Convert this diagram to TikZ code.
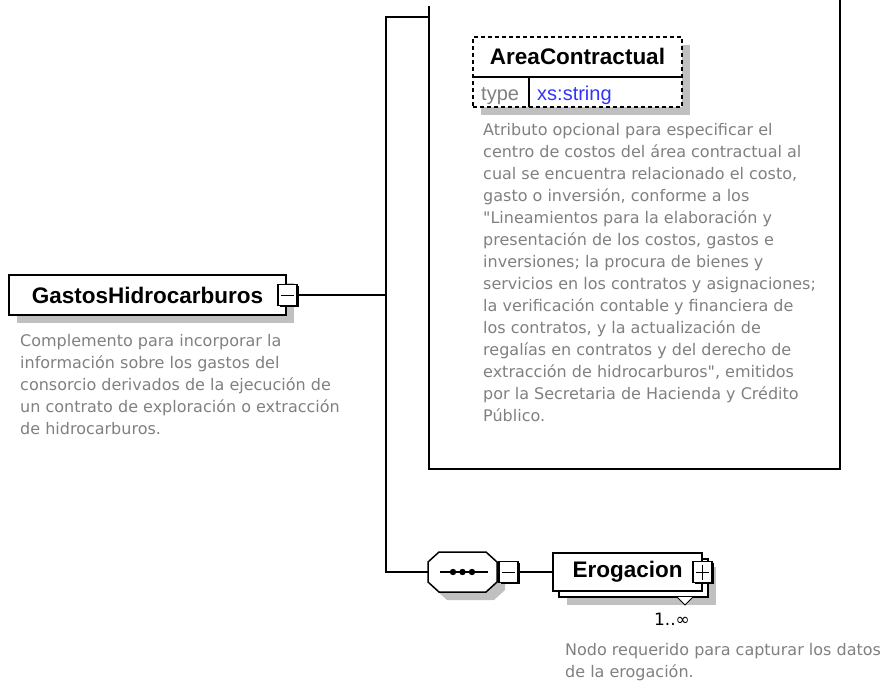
\documentclass[tikz,border=0pt]{standalone}
\usepackage{fontspec}
\newfontfamily\arialfam{Liberation Sans}
\newfontfamily\tahomafam{DejaVu Sans}
\usetikzlibrary{shadows}
\definecolor{descgray}{RGB}{128,128,128}
\definecolor{shadowgray}{RGB}{192,192,192}
\definecolor{typeblue}{RGB}{51,51,255}
\tikzset{
  conn/.style={line width=1.5pt},
  boxshadow/.style={drop shadow={shadow xshift=8pt, shadow yshift=-8pt, fill=shadowgray, opacity=1}},
  elembox/.style={draw, line width=1.6pt, fill=white, inner sep=0pt,
    font=\arialfam\bfseries\fontsize{22.5}{26}\selectfont},
  btnbox/.style={draw, line width=1.2pt, fill=white, inner sep=0pt,
    minimum width=19pt, minimum height=21pt,
    drop shadow={shadow xshift=1.5pt, shadow yshift=-1.5pt, fill=black, opacity=1}},
  minusbtn/.style={btnbox, path picture={
    \draw[line width=1pt] ([xshift=3pt]path picture bounding box.west) -- ([xshift=-3pt]path picture bounding box.east);}},
  plusbtn/.style={btnbox, path picture={
    \draw[line width=1pt] ([xshift=3pt]path picture bounding box.west) -- ([xshift=-3pt]path picture bounding box.east);
    \draw[line width=1pt] ([yshift=-3pt]path picture bounding box.north) -- ([yshift=3pt]path picture bounding box.south);}},
  desc/.style={text=descgray, anchor=base west, align=left, inner sep=0pt,
    font=\tahomafam\fontsize{16}{22}\selectfont},
}
\newcommand{\octpath}{(11,0) -- (58,0) -- (69,10) -- (69,30) -- (58,40) -- (11,40) -- (0,30) -- (0,10) -- cycle}
\begin{document}
\begin{tikzpicture}[x=1pt,y=-1pt]
\useasboundingbox (0,0) rectangle (882,682);

% root element
\node[elembox, boxshadow, minimum width=277pt, minimum height=40pt] (gastos) at (147.5,295) {GastosHidrocarburos};
\node[minusbtn] (gastosbtn) at (287.5,295) {};
% base anchor sits on the last line
\node[desc] (gastosdesc) at (20,434) {Complemento para incorporar la\\información sobre los gastos del\\consorcio derivados de la ejecución de\\un contrato de exploración o extracción\\de hidrocarburos.};

% attributes box
\draw[line width=1.6pt] (429,6) -- (429,469) -- (840,469) -- (840,0);
\node[draw, dashed, dash pattern=on 4pt off 3pt, line width=1.5pt, fill=white, boxshadow,
  minimum width=209pt, minimum height=70pt, inner sep=0pt] (area) at (577.5,72) {};
\draw[line width=1.2pt] (area.west |- 0,77) -- (area.east |- 0,77);
\draw[line width=1.2pt] (529,77) -- (529,107);
\node[font=\arialfam\bfseries\fontsize{22.5}{26}\selectfont, inner sep=0pt] (areatitle) at (577.5,56) {AreaContractual};
\node[font=\arialfam\fontsize{20}{24}\selectfont, text=descgray, inner sep=0pt, anchor=base west] (areatype) at (481,100) {type};
\node[font=\arialfam\fontsize{20}{24}\selectfont, text=typeblue, inner sep=0pt, anchor=base west] (areaxs) at (537,100) {xs:string};
\node[desc] (areadesc) at (483,421) {Atributo opcional para especificar el\\centro de costos del área contractual al\\cual se encuentra relacionado el costo,\\gasto o inversión, conforme a los\\"Lineamientos para la elaboración y\\presentación de los costos, gastos e\\inversiones; la procura de bienes y\\servicios en los contratos y asignaciones;\\la verificación contable y financiera de\\los contratos, y la actualización de\\regalías en contratos y del derecho de\\extracción de hidrocarburos", emitidos\\por la Secretaria de Hacienda y Crédito\\Público.};

% sequence
\node[minimum width=69pt, minimum height=40pt, inner sep=0pt] (seq) at (462.5,572) {};
\fill[shadowgray, shift={(436,560)}] \octpath;
\draw[line width=1.5pt, fill=white, shift={(428,552)}] \octpath;
\draw[line width=1.2pt] ([xshift=12pt]seq.west) -- ([xshift=-9pt]seq.east);
\foreach \dx in {-9.5,0,9.5}
  \fill ([xshift=\dx pt]seq.center) circle (3.2pt);
\node[minusbtn] (seqbtn) at (508.5,572) {};

% child element
\node[elembox, boxshadow, minimum width=149pt, minimum height=38pt] (erogback) at (633.5,578) {};
\node[elembox, minimum width=149pt, minimum height=38pt] (erog) at (627.5,572) {Erogacion};
\node[plusbtn] (erogbtn) at (702.5,572) {};
\draw[line width=1pt, fill=white] (677,597) -- (685,605) -- (693,597);
\node[font=\tahomafam\fontsize{17}{20}\selectfont, inner sep=0pt] (erogocc) at (672,619) {1..∞};
\node[desc] (erogdesc) at (565,677) {Nodo requerido para capturar los datos\\de la erogación.};

% connectors
\coordinate (upper) at (386,17);
\coordinate (attach) at (429,17);
\coordinate (lower) at (386,572);
\draw[conn] (gastosbtn.east) -- (gastosbtn.east -| upper);
\draw[conn] (attach) -- (upper) -- (lower) -- (seq.west);
\draw[conn] (seqbtn.east) -- (erog.west);
\end{tikzpicture}
\end{document}
